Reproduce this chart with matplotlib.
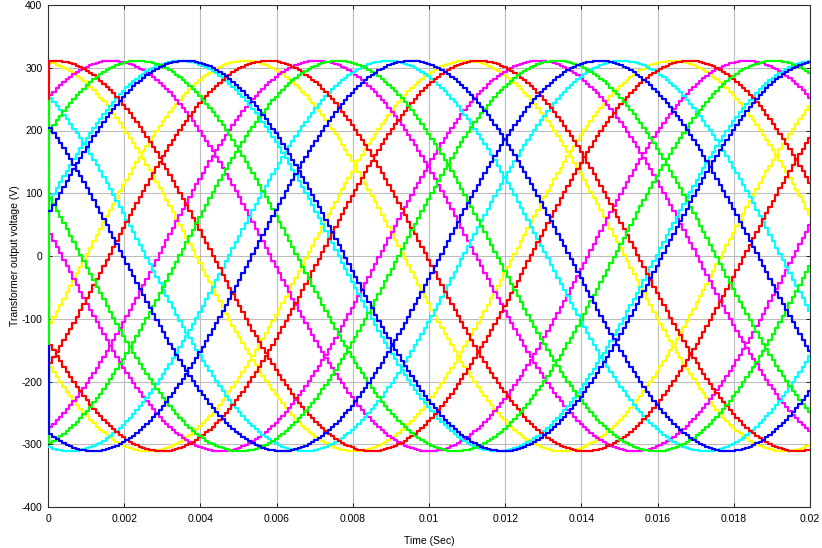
import numpy as np
import matplotlib
matplotlib.use("Agg")
import matplotlib.pyplot as plt
from matplotlib.ticker import FuncFormatter

# ---- values ----
amplitude_v = 311.0          # peak of every phase (V)
period_s = 0.01667           # one cycle of a phase (s)
sample_s = 8.7e-5            # width of one stair step (s)
t_end_s = 0.02

# time (ms) at which each drawn phase reaches its positive peak
yellow_peaks_ms = [-0.35, 5.10, 10.90]
magenta_peaks_ms = [1.60, 7.00, 12.80]
cyan_peaks_ms = [3.40, 8.85, 15.00]
red_peaks_ms = [0.10, 5.70, 11.25]
green_peaks_ms = [2.30, 7.55, 13.30]
blue_peaks_ms = [3.55, 9.45, 14.40]

# value held during the very first step (start-up jump at t = 0), V
yellow_first_v = [None, -40, None]
magenta_first_v = [None, None, None]
cyan_first_v = [None, None, None]
red_first_v = [231, None, None]
green_first_v = [None, 247, None]
blue_first_v = [None, -143, None]

series = [
    ("#ffff00", yellow_peaks_ms, yellow_first_v),
    ("#ff00ff", magenta_peaks_ms, magenta_first_v),
    ("#00ffff", cyan_peaks_ms, cyan_first_v),
    ("#ff0000", red_peaks_ms, red_first_v),
    ("#00ff00", green_peaks_ms, green_first_v),
    ("#0000ff", blue_peaks_ms, blue_first_v),
]

x_ticks = np.arange(0, 0.0201, 0.002)
y_ticks = np.arange(-400, 401, 100)

plt.rcParams["font.family"] = ["Liberation Sans", "DejaVu Sans"]

fig = plt.figure(figsize=(8.22, 5.48), dpi=100)
ax = fig.add_axes([48 / 822, 41 / 548, 762 / 822, 502 / 548])

t = np.arange(0.0, t_end_s + sample_s, sample_s)
t_plot = np.concatenate(([0.0], t + sample_s * 0.35))
for color, peaks, firsts in series:
    for tp, v0 in zip(peaks, firsts):
        v = amplitude_v * np.cos(2 * np.pi * (t - tp * 1e-3) / period_s)
        first = v[0] if v0 is None else v0
        ax.plot(t_plot, np.concatenate(([first], v)), color=color, lw=1.6,
                drawstyle="steps-post", zorder=3)

ax.set_xlim(0, 0.02)
ax.set_ylim(-400, 400)
ax.set_xticks(x_ticks)
ax.set_yticks(y_ticks)
ax.xaxis.set_major_formatter(FuncFormatter(lambda v, p: "%g" % round(v, 4)))
ax.yaxis.set_major_formatter(FuncFormatter(lambda v, p: "%g" % v))
ax.grid(True, color="#bcbcbc", lw=0.8, ls="-", zorder=0)
ax.tick_params(direction="in", length=3, width=0.6, labelsize=7.5,
               top=True, right=True)
ax.tick_params(axis="x", pad=5)
ax.tick_params(axis="y", pad=4)
for s in ax.spines.values():
    s.set_linewidth(0.8)
    s.set_color("#303030")
ax.set_xlabel("Time (Sec)", fontsize=7.5, labelpad=9)
ax.set_ylabel("Transformer output voltage (V)", fontsize=7.5, labelpad=1)

fig.savefig("out.png", dpi=100)
